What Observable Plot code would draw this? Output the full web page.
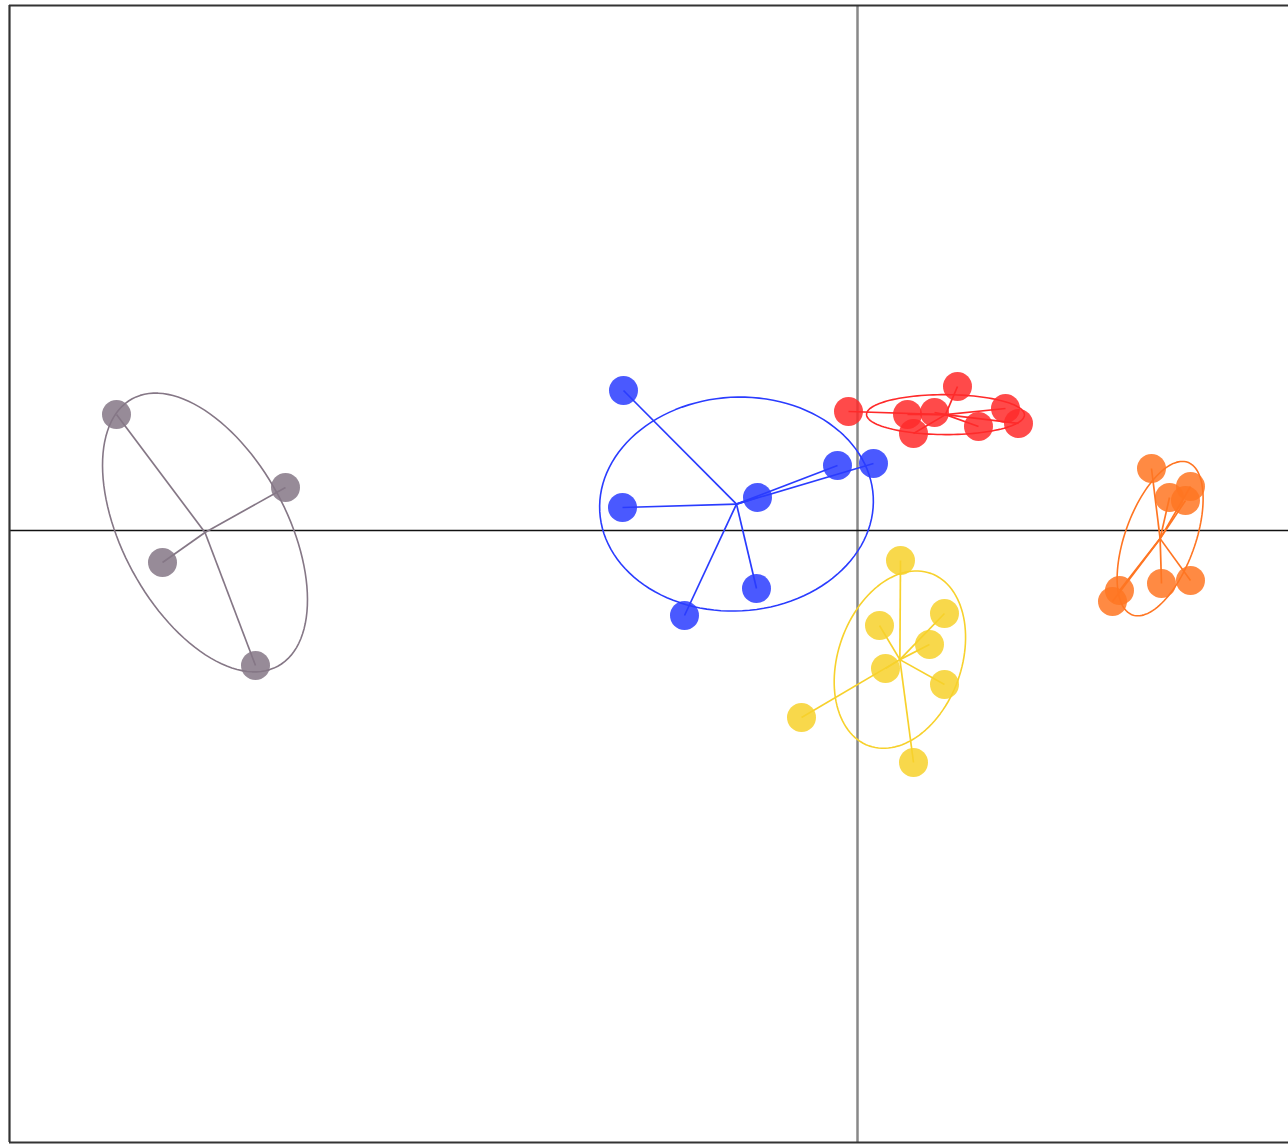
<!DOCTYPE html>
<html>
<head>
<meta charset="utf-8">
<script src="https://cdn.jsdelivr.net/npm/d3@7"></script>
<script src="https://cdn.jsdelivr.net/npm/@observablehq/plot@0.6"></script>
<style>
html,body{margin:0;padding:0;background:#fff;overflow:hidden;}
svg{display:block;}
</style>
</head>
<body>
<div id="chart"></div>
<script>
// Group names and colours
const groups = ["g1", "g2", "g3", "g4", "g5"];
const colors = ["#857786", "#2a3cff", "#ff2a2a", "#f7d12c", "#ff7522"];

// Point coordinates per group (factorial plane units)
const g1X = [-7.41, -5.72, -6.95, -6.02];
const g1Y = [1.16, 0.43, -0.32, -1.35];
const g2X = [-2.34, -2.35, -1.00, -0.20, 0.16, -1.01, -1.73];
const g2Y = [1.40, 0.23, 0.33, 0.65, 0.67, -0.58, -0.85];
const g3X = [-0.09, 1.00, 0.50, 0.77, 0.56, 1.21, 1.48, 1.61];
const g3Y = [1.19, 1.44, 1.16, 1.18, 0.97, 1.04, 1.22, 1.07];
const g4X = [0.43, 0.22, 0.87, 0.72, 0.28, 0.87, -0.56, 0.56];
const g4Y = [-0.30, -0.95, -0.83, -1.14, -1.38, -1.54, -1.87, -2.32];
const g5X = [2.94, 3.12, 3.33, 3.28, 2.62, 2.55, 3.04, 3.33];
const g5Y = [0.62, 0.33, 0.44, 0.30, -0.60, -0.71, -0.53, -0.50];

// Plot window
const xDomain = [-8.48, 4.31];
const yDomain = [-6.12, 5.25];

const allX = [g1X, g2X, g3X, g4X, g5X];
const allY = [g1Y, g2Y, g3Y, g4Y, g5Y];

const points = [];
const ellipses = [];
groups.forEach((g, gi) => {
  const xs = allX[gi], ys = allY[gi], n = xs.length;
  const mx = d3.mean(xs), my = d3.mean(ys);
  let vx = 0, vy = 0, cxy = 0;
  xs.forEach((x, i) => {
    points.push({group: g, x, y: ys[i], cx: mx, cy: my});
    vx += (x - mx) ** 2; vy += (ys[i] - my) ** 2; cxy += (x - mx) * (ys[i] - my);
  });
  vx /= n; vy /= n; cxy /= n;
  const m = (vx + vy) / 2, d = Math.sqrt(((vx - vy) / 2) ** 2 + cxy ** 2);
  const l1 = m + d, l2 = Math.max(m - d, 0);
  const theta = Math.atan2(l1 - vx, cxy || 1e-12);
  const a = 1.5 * Math.sqrt(l1), b = 1.5 * Math.sqrt(l2);
  for (let k = 0; k <= 120; k++) {
    const t = (k / 120) * 2 * Math.PI;
    const u = a * Math.cos(t), v = b * Math.sin(t);
    ellipses.push({
      group: g,
      x: mx + u * Math.cos(theta) - v * Math.sin(theta),
      y: my + u * Math.sin(theta) + v * Math.cos(theta)
    });
  }
});

const chart = Plot.plot({
  width: 1288,
  height: 1144,
  marginLeft: 9,
  marginRight: 0,
  marginTop: 5,
  marginBottom: 2,
  x: {domain: xDomain, axis: null},
  y: {domain: yDomain, axis: null},
  color: {domain: groups, range: colors},
  marks: [
    Plot.ruleX([0], {stroke: "#888", strokeWidth: 2.5}),
    Plot.ruleY([0], {stroke: "#111", strokeWidth: 1.5}),
    Plot.ruleX([xDomain[0]], {stroke: "#333", strokeWidth: 2.2}),
    Plot.ruleY([yDomain[0], yDomain[1]], {stroke: "#333", strokeWidth: 2.2}),
    Plot.link(points, {x1: "cx", y1: "cy", x2: "x", y2: "y", stroke: "group", strokeWidth: 1.7}),
    Plot.line(ellipses, {x: "x", y: "y", z: "group", stroke: "group", strokeWidth: 1.6, curve: "linear"}),
    Plot.dot(points, {x: "x", y: "y", r: 14.5, fill: "group", fillOpacity: 0.85, stroke: null})
  ]
});
document.getElementById("chart").append(chart);
</script>
</body>
</html>
